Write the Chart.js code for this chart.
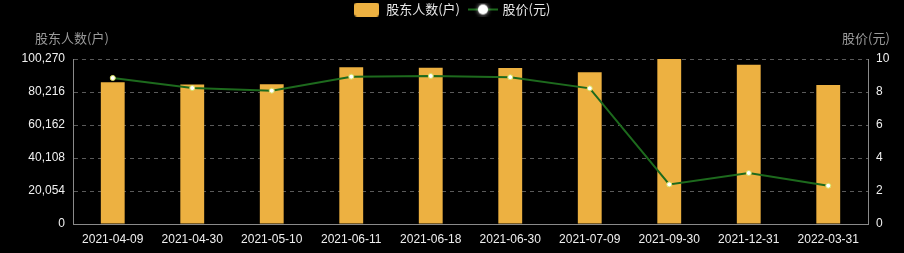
<!DOCTYPE html>
<html>
<head>
<meta charset="utf-8">
<script src="https://cdn.jsdelivr.net/npm/chart.js@4/dist/chart.umd.min.js"></script>
<style>
  html, body { margin: 0; padding: 0; background: #000; }
  #wrap { width: 904px; height: 253px; }
</style>
</head>
<body>
<div id="wrap"><canvas id="c"></canvas></div>
<script>
const categories = ['2021-04-09', '2021-04-30', '2021-05-10', '2021-06-11', '2021-06-18',
  '2021-06-30', '2021-07-09', '2021-09-30', '2021-12-31', '2022-03-31'];
const holders = [86100, 84700, 84900, 95200, 94900, 94800, 92200, 100270, 96800, 84500];
const prices = [8.85, 8.24, 8.08, 8.93, 8.97, 8.9, 8.22, 2.4, 3.09, 2.32];
const leftTicks = [0, 20054, 40108, 60162, 80216, 100270];
const rightTicks = [0, 2, 4, 6, 8, 10];

const barColor = '#EDB141';
const lineColor = '#1d6a1d';
const cjk = '"Noto Sans CJK SC", sans-serif';
const num = '"Liberation Sans", Arial, sans-serif';

// legend swatches
function makeBarSwatch() {
  const c = document.createElement('canvas');
  c.width = 25; c.height = 14;
  const g = c.getContext('2d');
  g.fillStyle = barColor;
  g.beginPath();
  g.roundRect(0, 0, 25, 14, 3);
  g.fill();
  return c;
}
function makeLineSwatch() {
  const c = document.createElement('canvas');
  c.width = 30; c.height = 14;
  const g = c.getContext('2d');
  g.strokeStyle = lineColor;
  g.lineWidth = 2;
  g.beginPath(); g.moveTo(0, 7); g.lineTo(30, 7); g.stroke();
  g.shadowColor = 'rgba(255,255,255,0.8)';
  g.shadowBlur = 4;
  g.fillStyle = '#fff';
  g.beginPath(); g.arc(15, 7, 5, 0, Math.PI * 2); g.fill();
  return c;
}
const swatches = [makeBarSwatch(), makeLineSwatch()];

const axisTitles = {
  id: 'axisTitles',
  afterDraw(chart) {
    const ctx = chart.ctx;
    ctx.save();
    ctx.fillStyle = '#9a9a9a';
    ctx.font = '13px ' + cjk;
    ctx.textBaseline = 'middle';
    ctx.textAlign = 'center';
    ctx.fillText('股东人数(户)', 72, 38);
    ctx.fillText('股价(元)', 866, 38);
    ctx.restore();
  }
};

const fixLegend = {
  id: 'fixLegend',
  afterInit(chart) {
    const lg = chart.legend;
    const fit = lg.fit.bind(lg);
    lg.fit = function () { fit(); this.height = 66; };
  }
};

new Chart(document.getElementById('c'), {
  data: {
    labels: categories,
    datasets: [
      {
        type: 'line',
        label: '股价(元)',
        data: prices,
        yAxisID: 'y1',
        borderColor: lineColor,
        borderWidth: 2,
        pointRadius: 2.5,
        pointBackgroundColor: '#ffffff',
        pointBorderColor: '#d8e060',
        pointBorderWidth: 1,
        tension: 0,
        order: 0
      },
      {
        type: 'bar',
        label: '股东人数(户)',
        data: holders,
        yAxisID: 'y',
        backgroundColor: barColor,
        barPercentage: 0.6,
        categoryPercentage: 0.5,
        order: 1
      }
    ]
  },
  options: {
    responsive: true,
    maintainAspectRatio: false,
    animation: false,
    layout: { padding: { left: 0, right: 0, top: -7, bottom: 0 } },
    plugins: {
      tooltip: { enabled: false },
      legend: {
        position: 'top',
        reverse: true,
        labels: {
          color: '#e6e6e6',
          font: { size: 13, family: cjk },
          usePointStyle: true,
          pointStyleWidth: 26,
          padding: 10,
          generateLabels(chart) {
            return chart.data.datasets.map((ds, i) => ({
              text: ds.label,
              fillStyle: 'transparent',
              strokeStyle: 'transparent',
              lineWidth: 0,
              pointStyle: ds.type === 'bar' ? swatches[0] : swatches[1],
              datasetIndex: i,
              hidden: false,
              fontColor: '#e6e6e6'
            }));
          }
        }
      }
    },
    scales: {
      x: {
        offset: true,
        grid: { display: false, drawTicks: false },
        border: { color: '#8a8a8a', width: 1 },
        ticks: { color: '#f0f0f0', font: { size: 12, family: num }, padding: 8, maxRotation: 0, autoSkip: false },
        afterFit(s) { s.height = 29; }
      },
      y: {
        position: 'left',
        min: 0,
        max: leftTicks[leftTicks.length - 1],
        afterBuildTicks(s) { s.ticks = leftTicks.map(v => ({ value: v })); },
        ticks: {
          color: '#f0f0f0',
          font: { size: 12, family: num },
          padding: 8,
          callback: v => Number(v).toLocaleString('en-US')
        },
        grid: { color: '#5a5a5a', lineWidth: 1, drawTicks: false },
        border: { color: '#8a8a8a', width: 1, dash: [4, 4] },
        afterFit(s) { s.width = 73; }
      },
      y1: {
        position: 'right',
        min: 0,
        max: 10,
        afterBuildTicks(s) { s.ticks = rightTicks.map(v => ({ value: v })); },
        ticks: { color: '#f0f0f0', font: { size: 12, family: num }, padding: 8 },
        grid: { drawOnChartArea: false, drawTicks: false },
        border: { color: '#8a8a8a', width: 1 },
        afterFit(s) { s.width = 36; }
      }
    }
  },
  plugins: [axisTitles, fixLegend]
});
</script>
</body>
</html>
